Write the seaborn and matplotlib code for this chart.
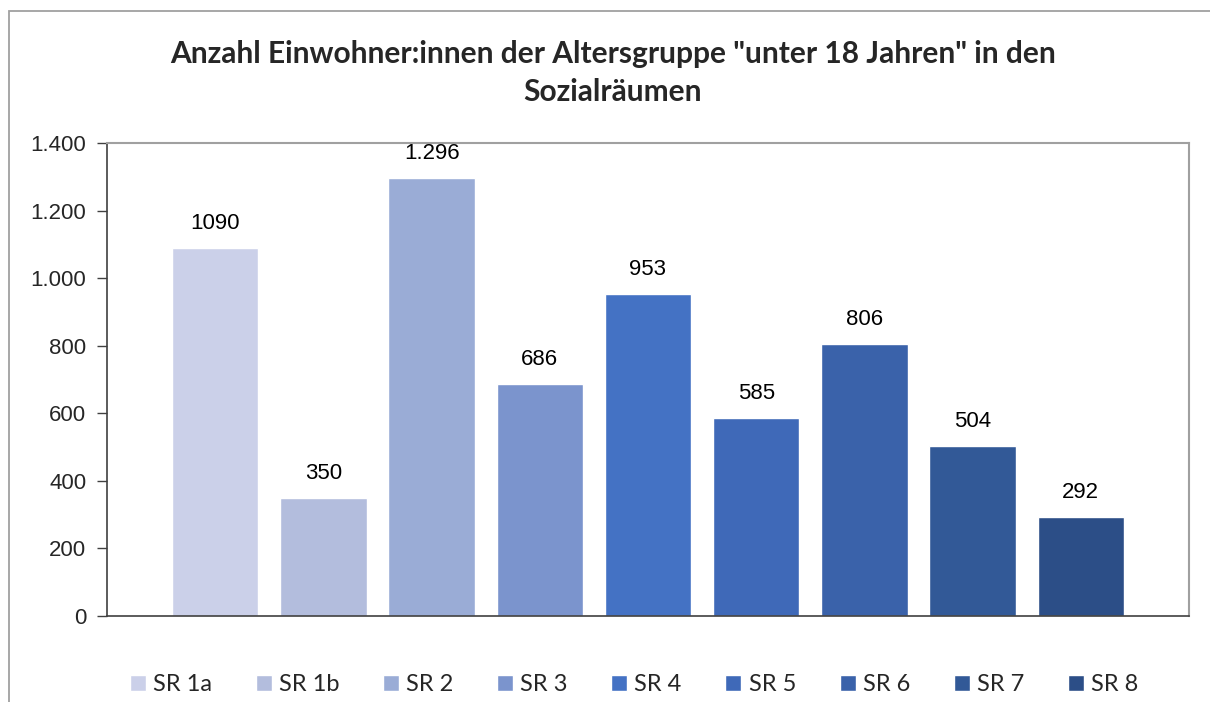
import matplotlib.pyplot as plt
import matplotlib.patches as mpatches
import pandas as pd
import seaborn as sns
from matplotlib.ticker import FuncFormatter

categories = ["SR 1a", "SR 1b", "SR 2", "SR 3", "SR 4", "SR 5", "SR 6", "SR 7", "SR 8"]
values = [1090, 350, 1296, 686, 953, 585, 806, 504, 292]
value_labels = ["1090", "350", "1.296", "686", "953", "585", "806", "504", "292"]
colors = ["#CBD0E9", "#B3BDDD", "#9AACD6", "#7B94CD", "#4472C4",
          "#3F69B8", "#3A62AA", "#325997", "#2C4E87"]

df = pd.DataFrame({"sr": categories, "value": values})

sns.set_style("white")
plt.rcParams["font.family"] = ["Liberation Sans", "DejaVu Sans"]

fig = plt.figure(figsize=(12.1, 7.02), dpi=100)
ax = fig.add_axes([107 / 1210, 1 - 616 / 702, (1189 - 107) / 1210, (616 - 143) / 702])

sns.barplot(data=df, x="sr", y="value", hue="sr", palette=colors,
            hue_order=categories, order=categories, width=0.8,
            saturation=1, ax=ax, legend=True)

for i, lab in enumerate(value_labels):
    ax.annotate(lab, (i, values[i]), xytext=(0, 10), textcoords="offset points",
                ha="center", va="bottom", fontsize=16, color="#000000")

ax.set_xlim(-1, 9)
ax.set_ylim(0, 1400)
ax.set_yticks(range(0, 1401, 200))
ax.yaxis.set_major_formatter(FuncFormatter(lambda v, p: f"{int(v):,}".replace(",", ".")))
ax.tick_params(axis="y", labelsize=16, length=7, width=1, color="#404040", left=True, pad=8)
ax.tick_params(axis="x", bottom=False, labelbottom=False)
ax.set_xlabel("")
ax.set_ylabel("")

for side in ["left", "bottom"]:
    ax.spines[side].set_color("#404040")
    ax.spines[side].set_linewidth(1.2)
for side in ["top", "right"]:
    ax.spines[side].set_color("#A0A0A0")
    ax.spines[side].set_linewidth(1.5)

sns.move_legend(ax, "center", bbox_to_anchor=((634 - 107) / 1082, -0.145), ncol=9, frameon=False,
                title=None, handlelength=0.68, handleheight=0.68, handletextpad=0.3,
                columnspacing=1.85, prop={"family": "Lato", "size": 17})

fig.text(613 / 1210, 1 - 54 / 702, "Anzahl Einwohner:innen der Altersgruppe \"unter 18 Jahren\" in den",
         ha="center", va="center", fontsize=21.5, fontweight="bold", family="Lato")
fig.text(613 / 1210, 1 - 92 / 702, "Sozialräumen",
         ha="center", va="center", fontsize=21.5, fontweight="bold", family="Lato")

frame = mpatches.Rectangle((9 / 1210, -0.05), 1.2, 1 - 11 / 702 + 0.05, transform=fig.transFigure,
                           fill=False, edgecolor="#A0A0A0", linewidth=1.3)
fig.patches.append(frame)

fig.savefig("out.png", dpi=100)
